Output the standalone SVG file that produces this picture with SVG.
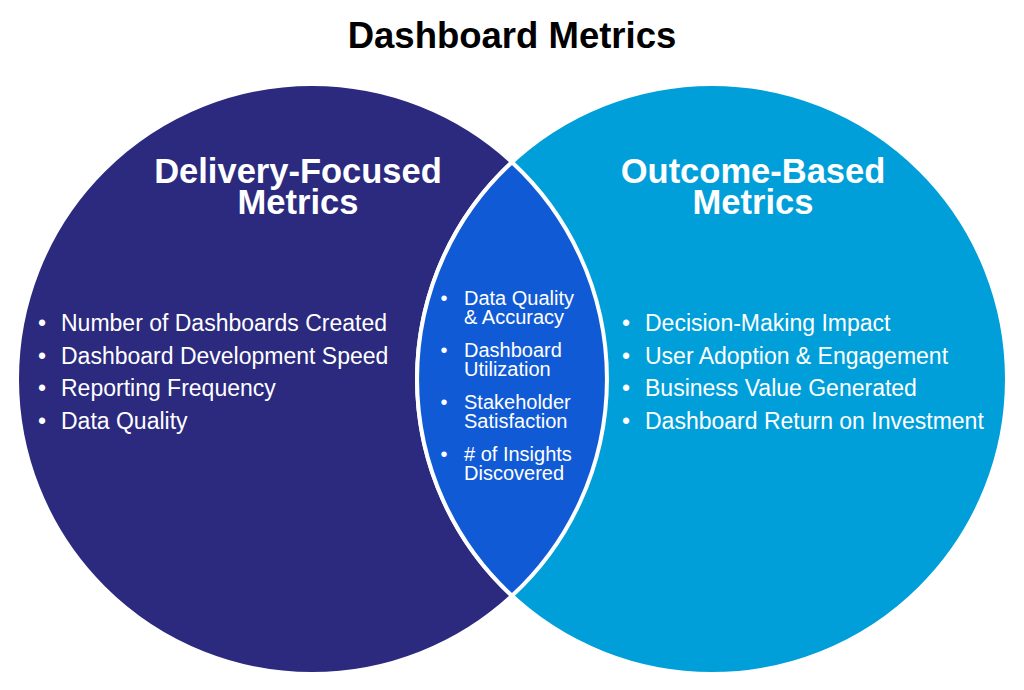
<svg xmlns="http://www.w3.org/2000/svg" width="1024" height="690" viewBox="0 0 1024 690">
<style>
text{font-family:"Liberation Sans",Arial,Helvetica,sans-serif;fill:#fff}
.title{font-size:36.5px;font-weight:bold;fill:#000;text-anchor:middle}
.head{font-size:34.5px;font-weight:bold;text-anchor:middle}
.item{font-size:23px}
.citem{font-size:20px}
.blt{text-anchor:middle}
.circ{stroke:#fff;stroke-width:4}
</style>
<rect width="1024" height="690" fill="#fff"/>
<text class="title" x="512" y="48">Dashboard Metrics</text>
<g id="delivery">
<circle class="circ" cx="312" cy="379" r="295" fill="#2b2a7f"/>
</g>
<g id="outcome">
<circle class="circ" cx="712" cy="379" r="295" fill="#009fda"/>
</g>
<g id="overlap">
<path class="circ" d="M512,162.2 A295,295 0 0,1 512,595.8 A295,295 0 0,1 512,162.2 Z" fill="#115ad5"/>
</g>
<g id="delivery-text">
<text class="head" x="298" y="183">Delivery-Focused</text>
<text class="head" x="298" y="214">Metrics</text>
<g class="item">
<text class="blt" x="42" y="331">•</text><text x="61" y="331">Number of Dashboards Created</text>
<text class="blt" x="42" y="363.5">•</text><text x="61" y="363.5">Dashboard Development Speed</text>
<text class="blt" x="42" y="396">•</text><text x="61" y="396">Reporting Frequency</text>
<text class="blt" x="42" y="428.5">•</text><text x="61" y="428.5">Data Quality</text>
</g>
</g>
<g id="outcome-text">
<text class="head" x="753" y="183">Outcome-Based</text>
<text class="head" x="753" y="214">Metrics</text>
<g class="item">
<text class="blt" x="626" y="331">•</text><text x="645" y="331">Decision-Making Impact</text>
<text class="blt" x="626" y="363.5">•</text><text x="645" y="363.5">User Adoption &amp; Engagement</text>
<text class="blt" x="626" y="396">•</text><text x="645" y="396">Business Value Generated</text>
<text class="blt" x="626" y="428.5">•</text><text x="645" y="428.5">Dashboard Return on Investment</text>
</g>
</g>
<g id="overlap-text" class="citem">
<text class="blt" x="444" y="305">•</text><text x="464" y="305">Data Quality</text><text x="464" y="324">&amp; Accuracy</text>
<text class="blt" x="444" y="357">•</text><text x="464" y="357">Dashboard</text><text x="464" y="376">Utilization</text>
<text class="blt" x="444" y="409">•</text><text x="464" y="409">Stakeholder</text><text x="464" y="428">Satisfaction</text>
<text class="blt" x="444" y="461">•</text><text x="464" y="461"># of Insights</text><text x="464" y="480">Discovered</text>
</g>
<g id="connectors"/>
</svg>
